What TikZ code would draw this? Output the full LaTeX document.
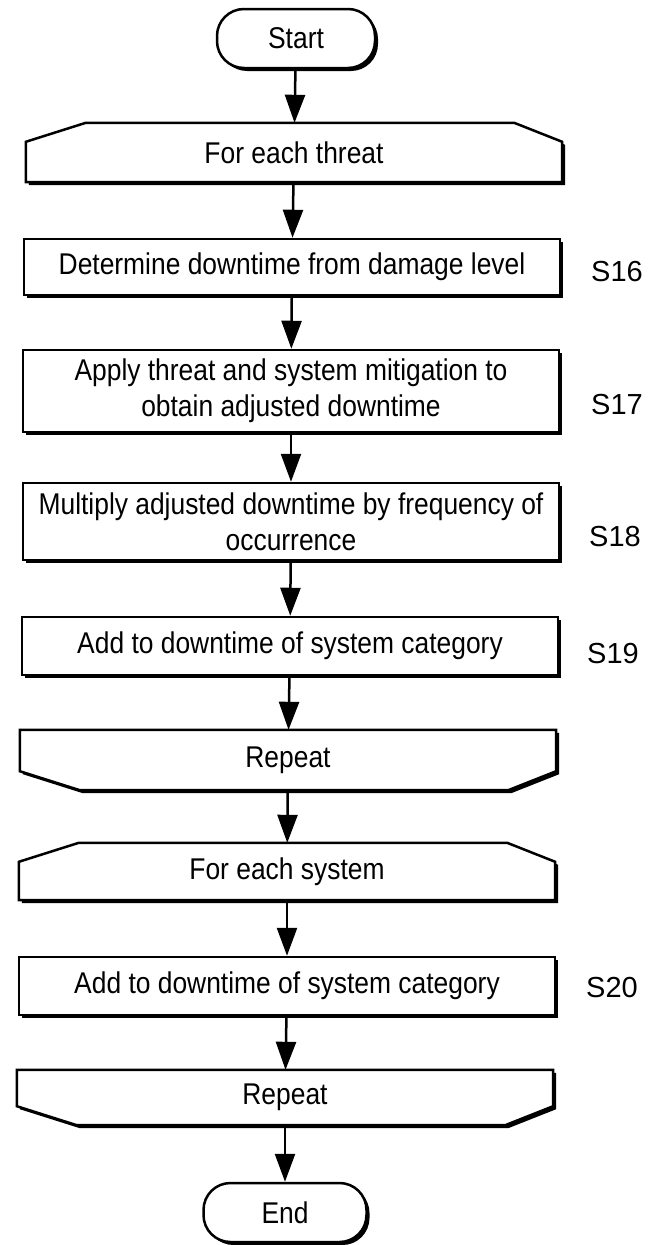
\documentclass[tikz,border=0pt]{standalone}
\usepackage{fontspec}
\setmainfont{Liberation Sans}[FakeStretch=0.88]
\newfontfamily\lblfont{Liberation Sans}
\usetikzlibrary{shadows,arrows.meta,backgrounds}
\begin{document}
\begin{tikzpicture}[x=1pt,y=1pt]
	\tikzstyle{every node}+=[inner sep=0pt,font=\fontsize{30}{36}\selectfont]
	\tikzstyle{base}=[draw,fill=white,line width=2.5pt,drop shadow={shadow xshift=3pt,shadow yshift=-3pt,opacity=1,fill=black}]
	\tikzstyle{term}=[base,rounded corners=27pt,minimum width=158pt,minimum height=59pt]
	\tikzstyle{proc}=[base,align=center,minimum width=536pt]
	\tikzstyle{loopbox}=[minimum width=536pt]
	\tikzstyle{lbl}=[font=\lblfont\fontsize{29}{30}\selectfont]
	\tikzstyle{arr}=[line width=2.5pt,-{Triangle[length=28pt,width=20pt]}]
	\useasboundingbox (0,0) rectangle (649,-1245);
	\node [term] (start) at (296,-38.5) {Start};
	\node [loopbox,minimum height=59pt] (thr) at (294,-152.5) {For each threat};
	\node [proc,minimum height=56pt] (s16) at (292,-267) {Determine downtime from damage level};
	\node [proc,minimum height=82pt] (s17) at (291,-391) {Apply threat and system mitigation to\\obtain adjusted downtime};
	\node [proc,minimum height=77pt] (s18) at (291,-521.5) {Multiply adjusted downtime by frequency of\\occurrence};
	\node [proc,minimum height=58pt] (s19) at (290,-646) {Add to downtime of system category};
	\node [loopbox,minimum height=60pt] (rep1) at (288,-760) {Repeat};
	\node [loopbox,minimum height=57pt] (sys) at (287,-871.5) {For each system};
	\node [proc,minimum height=58pt] (s20) at (287,-986) {Add to downtime of system category};
	\node [loopbox,minimum height=55pt] (rep2) at (285,-1097.5) {Repeat};
	\node [term,minimum width=163pt] (end) at (285,-1212.5) {End};
	\begin{scope}[on background layer]
		\draw [base] (thr.south west) -- ([yshift=-19pt]thr.north west) -- ([xshift=60pt]thr.north west) -- ([xshift=-48pt]thr.north east) -- ([yshift=-19pt]thr.north east) -- (thr.south east) -- cycle;
		\draw [base] (sys.south west) -- ([yshift=-19pt]sys.north west) -- ([xshift=60pt]sys.north west) -- ([xshift=-48pt]sys.north east) -- ([yshift=-19pt]sys.north east) -- (sys.south east) -- cycle;
		\draw [base] (rep1.north west) -- ([yshift=19pt]rep1.south west) -- ([xshift=60pt]rep1.south west) -- ([xshift=-48pt]rep1.south east) -- ([yshift=19pt]rep1.south east) -- (rep1.north east) -- cycle;
		\draw [base] (rep2.north west) -- ([yshift=19pt]rep2.south west) -- ([xshift=60pt]rep2.south west) -- ([xshift=-48pt]rep2.south east) -- ([yshift=19pt]rep2.south east) -- (rep2.north east) -- cycle;
	\end{scope}
	\node [lbl] (l16) at (617,-272) {S16};
	\node [lbl] (l17) at (617,-405) {S17};
	\node [lbl] (l18) at (615,-537) {S18};
	\node [lbl] (l19) at (613,-654) {S19};
	\node [lbl] (l20) at (612,-988) {S20};
	\draw [arr] (start) -- (thr);
	\draw [arr] (thr) -- (s16);
	\draw [arr] (s16) -- (s17);
	\draw [arr] (s17) -- (s18);
	\draw [arr] (s18) -- (s19);
	\draw [arr] (s19) -- (rep1);
	\draw [arr] (rep1) -- (sys);
	\draw [arr] (sys) -- (s20);
	\draw [arr] (s20) -- (rep2);
	\draw [arr] (rep2) -- (end);
\end{tikzpicture}
\end{document}
